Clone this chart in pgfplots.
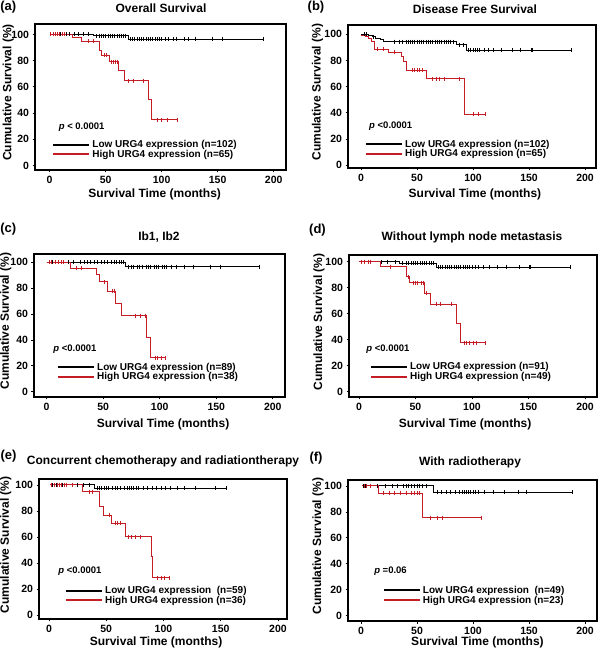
\documentclass[border=0pt]{standalone}
\usepackage{fontspec}
\setmainfont{Liberation Sans}
\usepackage{pgfplots}
\pgfplotsset{compat=1.18}
\definecolor{kmred}{RGB}{196,30,36}
\pgfplotsset{
 km/.style={
  scale only axis, anchor=south west,
  axis line style={line width=1.3pt},
  every tick/.style={black, line width=0.8pt},
  tick align=outside, major tick length=2.5pt, tick pos=left,
  xtick={0,50,100,150,200}, ytick={0,20,40,60,80,100},
  /pgf/number format/assume math mode=true,
  ticklabel style={font=\fontsize{10.5}{11}\selectfont},
  label style={font=\fontsize{12}{13}\selectfont},
  title style={font=\fontsize{12}{13}\selectfont, anchor=center},
  ylabel style={anchor=center},
  xlabel style={anchor=center},
  legend style={draw=none, fill=none, font=\fontsize{10}{11}\selectfont, anchor=west, inner sep=0pt, row sep=-3pt},
  legend cell align=left,
  legend image code/.code={\draw[#1] (0pt,0pt) -- (36pt,0pt);},
 },
 kmblk/.style={black, line width=1pt, const plot mark left, forget plot},
 kmrd/.style={kmred, line width=1pt, const plot mark left, forget plot},
 bcens/.style={black, only marks, mark=|, mark size=2pt, mark options={line width=0.6pt}, forget plot},
 rcens/.style={kmred, only marks, mark=|, mark size=2pt, mark options={line width=0.6pt}, forget plot},
}
\begin{document}
\bfseries
\begin{tikzpicture}
\path[use as bounding box] (0pt,0pt) rectangle (600pt,650pt);
% (a)
\node[font=\fontsize{13}{14}\selectfont] at (8.3pt,642.5pt) {(a)};
\begin{axis}[km, at={(35pt,480pt)}, width=251pt, height=146pt,
  xmin=-13, xmax=211, ymin=-3.5, ymax=108,
  title={Overall Survival}, title style={at={(0.502,1.065)}},
  xlabel={Survival Time (months)}, xlabel style={at={(0.477,-0.164)}},
  ylabel={Cumulative Survival (\%)}, ylabel style={at={(-0.106,0.53)}},
  legend style={at={(axis cs:2.4,12.2)}}]
\addlegendimage{black, line width=2pt}
\addlegendentry{Low URG4 expression (n=102)}
\addlegendimage{kmred, line width=2pt}
\addlegendentry{High URG4 expression (n=65)}
\addplot[kmblk] coordinates {(0,100)(39.3,98.9)(70,96.5)(191,96.5)};
\addplot[kmrd] coordinates {(0,100)(20.8,98)(28.9,94.7)(44.6,88)(46.7,84.3)(53.6,79.2)(61.6,72.3)(66.7,64.7)(88.4,50.5)(91.4,35)(114.3,35)};
\addplot[bcens] coordinates {(5,100)(10,100)(15,100)(18,100)(22,100)(26,100)(30,100)(35,100)
 (42,98.9)(44,98.9)(46,98.9)(48,98.9)(50,98.9)(52,98.9)(54,98.9)(56,98.9)(58,98.9)(60,98.9)(62,98.9)(64,98.9)(66,98.9)(68,98.9)
 (72,96.5)(74,96.5)(76,96.5)(78,96.5)(80,96.5)(82,96.5)(84,96.5)(86,96.5)(88,96.5)(90,96.5)(92,96.5)(94,96.5)(96,96.5)(98,96.5)(100,96.5)(103,96.5)(106,96.5)(110,96.5)(113,96.5)(120,96.5)(124,96.5)(130,96.5)(145,96.5)(154,96.5)(191,96.5)};
\addplot[rcens] coordinates {(1,100)(3,100)(5,100)(7,100)(9,100)(11,100)(13,100)(35,94.7)(39,94.7)(49,84.3)(51,84.3)(55,79.2)(57,79.2)(59,79.2)(60,79.2)(70.5,64.7)(75,64.7)(84,64.7)(96,35)(100,35)(105,35)(114,35)};
\node[anchor=west, font=\fontsize{9.5}{10}\selectfont] at (axis cs:5.1,29.4) {\textit{p} < 0.0001};
\end{axis}
% (b)
\node[font=\fontsize{13}{14}\selectfont] at (316pt,642.5pt) {(b)};
\begin{axis}[km, at={(348pt,482pt)}, width=248pt, height=143pt,
  xmin=-11.6, xmax=209.8, ymin=-2, ymax=107,
  title={Disease Free Survival}, title style={at={(0.512,1.07)}},
  xlabel={Survival Time (months)}, xlabel style={at={(0.512,-0.182)}},
  ylabel={Cumulative Survival (\%)}, ylabel style={at={(-0.123,0.53)}},
  legend style={at={(axis cs:3.6,12.3)}}]
\addlegendimage{black, line width=2pt}
\addlegendentry{Low URG4 expression (n=102)}
\addlegendimage{kmred, line width=2pt}
\addlegendentry{High URG4 expression (n=65)}
\addplot[kmblk] coordinates {(0,100)(6.5,99)(10,98)(13,97)(17,96)(20,94.4)(85.4,91.9)(94.3,87.6)(188,87.6)};
\addplot[kmrd] coordinates {(0,99)(3.6,98.2)(6.5,97)(9.5,94.4)(12.5,88.6)(24.4,86.3)(36.3,83)(37.8,79.2)(40.2,72.4)(58.6,66)(92.3,39)(112,39)};
\addplot[bcens] coordinates {(3,100)(5,100)(11,98)
 (30,94.4)(34,94.4)(37,94.4)(40,94.4)(42,94.4)(44,94.4)(46,94.4)(48,94.4)(50,94.4)(52,94.4)(54,94.4)(56,94.4)(58,94.4)(60,94.4)(62,94.4)(64,94.4)(66,94.4)(68,94.4)(70,94.4)(72,94.4)(74,94.4)(76,94.4)(78,94.4)(80,94.4)(82,94.4)
 (88,91.9)(91,91.9)
 (96,87.6)(98,87.6)(100,87.6)(102,87.6)(104,87.6)(106,87.6)(110,87.6)(114,87.6)(118,87.6)(125,87.6)(135,87.6)(142,87.6)(152,87.6)(153,87.6)(188,87.6)};
\addplot[rcens] coordinates {(15,88.6)(20,88.6)(30,86.3)(46,72.4)(48,72.4)(50,72.4)(52,72.4)(55,72.4)(64,66)(67,66)(70,66)(74,66)(88,66)(100,39)(105,39)(111,39)};
\node[anchor=west, font=\fontsize{9.5}{10}\selectfont] at (axis cs:4.2,29.7) {\textit{p} <0.0001};
\end{axis}
% (c)
\node[font=\fontsize{13}{14}\selectfont] at (8.3pt,420.5pt) {(c)};
\begin{axis}[km, at={(34pt,253pt)}, width=251pt, height=143pt,
  xmin=-11.2, xmax=210.8, ymin=-4.1, ymax=106.4,
  title={Ib1, Ib2}, title style={at={(0.498,1.077)}},
  xlabel={Survival Time (months)}, xlabel style={at={(0.514,-0.189)}},
  ylabel={Cumulative Survival (\%)}, ylabel style={at={(-0.112,0.53)}},
  legend style={at={(axis cs:9.1,15.2)}}]
\addlegendimage{black, line width=2pt}
\addlegendentry{Low URG4 expression (n=89)}
\addlegendimage{kmred, line width=2pt}
\addlegendentry{High URG4 expression (n=38)}
\addplot[kmblk] coordinates {(0,100)(70,96.6)(188,96.6)};
\addplot[kmrd] coordinates {(0,100)(21.5,95.3)(44.2,90.2)(46.3,85)(53.7,77.7)(60.5,68.1)(65.8,58.5)(88.5,42.2)(91.5,26.2)(104.7,26.2)};
\addplot[bcens] coordinates {(2,100)(5,100)(8,100)(15,100)(19,100)(24,100)(30,100)(33,100)(36,100)(39,100)(42,100)(45,100)(48,100)(51,100)(54,100)(57,100)(60,100)(62,100)(64,100)(66,100)(68,100)
 (72,96.6)(75,96.6)(77,96.6)(80,96.6)(82,96.6)(85,96.6)(88,96.6)(90,96.6)(92,96.6)(95,96.6)(97,96.6)(99,96.6)(102,96.6)(104,96.6)(106,96.6)(110,96.6)(115,96.6)(122,96.6)(130,96.6)(145,96.6)(154,96.6)(188,96.6)};
\addplot[rcens] coordinates {(2,100)(4,100)(8,100)(10,100)(13,100)(15,100)(26,95.3)(31,95.3)(51,85)(58,77.7)(60,77.7)(78,58.5)(83,58.5)(87,58.5)(96,26.2)(98,26.2)(101,26.2)(104.7,26.2)};
\node[anchor=west, font=\fontsize{9.5}{10}\selectfont] at (axis cs:2.9,33) {\textit{p} <0.0001};
\end{axis}
% (d)
\node[font=\fontsize{13}{14}\selectfont] at (317.5pt,420pt) {(d)};
\begin{axis}[km, at={(349pt,253pt)}, width=248pt, height=142pt,
  xmin=-8.8, xmax=210.6, ymin=-4.1, ymax=105.2,
  title={Without lymph node metastasis}, title style={at={(0.496,1.085)}},
  xlabel={Survival Time (months)}, xlabel style={at={(0.468,-0.19)}},
  ylabel={Cumulative Survival (\%)}, ylabel style={at={(-0.121,0.53)}},
  legend style={at={(axis cs:9.7,15.2)}}]
\addlegendimage{black, line width=2pt}
\addlegendentry{Low URG4 expression (n=91)}
\addlegendimage{kmred, line width=2pt}
\addlegendentry{High URG4 expression (n=49)}
\addplot[kmblk] coordinates {(0,100)(36.3,98.7)(68.7,95.6)(187.3,95.6)};
\addplot[kmrd] coordinates {(0,100)(19.5,96.2)(42.2,88.5)(44.5,83.8)(58.4,75.6)(63.4,67.2)(86.4,52.6)(89.4,37.7)(112,37.7)};
\addplot[bcens] coordinates {(5,100)(10,100)(20,100)(25,100)(32,100)
 (38,98.7)(42,98.7)(44,98.7)(46,98.7)(48,98.7)(50,98.7)(52,98.7)(54,98.7)(56,98.7)(58,98.7)(60,98.7)(62,98.7)(64,98.7)(66,98.7)
 (70,95.6)(72,95.6)(74,95.6)(76,95.6)(78,95.6)(80,95.6)(82,95.6)(84,95.6)(86,95.6)(88,95.6)(90,95.6)(92,95.6)(94,95.6)(96,95.6)(98,95.6)(100,95.6)(103,95.6)(106,95.6)(110,95.6)(115,95.6)(122,95.6)(130,95.6)(142,95.6)(151,95.6)(152,95.6)(187,95.6)};
\addplot[rcens] coordinates {(2,100)(5,100)(8,100)(10,100)(28,96.2)(44,88.5)(48,83.8)(50,83.8)(52,83.8)(55,83.8)(57,83.8)(60,75.6)(68,67.2)(72,67.2)(82,67.2)(93,37.7)(95,37.7)(98,37.7)(101,37.7)(104,37.7)(112,37.7)};
\node[anchor=west, font=\fontsize{9.5}{10}\selectfont] at (axis cs:3.5,32.8) {\textit{p} <0.0001};
\end{axis}
% (e)
\node[font=\fontsize{13}{14}\selectfont] at (8.5pt,193.5pt) {(e)};
\begin{axis}[km, at={(39pt,31pt)}, width=248pt, height=140pt,
  xmin=-8.7, xmax=207.9, ymin=-3.1, ymax=104.6,
  title={Concurrent chemotherapy and radiationtherapy}, title style={at={(0.5,1.086)}},
  xlabel={Survival Time (months)}, xlabel style={at={(0.472,-0.164)}},
  ylabel={Cumulative Survival (\%)}, ylabel style={at={(-0.134,0.53)}},
  legend style={at={(axis cs:14,15)}}]
\addlegendimage{black, line width=2pt}
\addlegendentry{Low URG4 expression \ (n=59)}
\addlegendimage{kmred, line width=2pt}
\addlegendentry{High URG4 expression (n=36)}
\addplot[kmblk] coordinates {(1,100)(39.9,97.4)(154.9,97.4)};
\addplot[kmrd] coordinates {(1,100)(29.7,94.9)(44.3,83.3)(47.2,76.9)(54.4,70.5)(67,60.3)(89.4,44.9)(90.8,28.7)(105.4,28.7)};
\addplot[bcens] coordinates {(3,100)(6,100)(9,100)(12,100)(15,100)(20,100)(25,100)(30,100)(35,100)
 (42,97.4)(44,97.4)(46,97.4)(48,97.4)(50,97.4)(52,97.4)(55,97.4)(58,97.4)(60,97.4)(62,97.4)(66,97.4)(68,97.4)(70,97.4)(72,97.4)(74,97.4)(76,97.4)(78,97.4)(82,97.4)(86,97.4)(90,97.4)(94,97.4)(98,97.4)(102,97.4)(106,97.4)(112,97.4)(118,97.4)(128,97.4)(145,97.4)(155,97.4)};
\addplot[rcens] coordinates {(2,100)(5,100)(7,100)(9,100)(11,100)(13,100)(15,100)(20,100)(35,94.9)(38,94.9)(53,76.9)(58,70.5)(60,70.5)(62,70.5)(69,60.3)(72,60.3)(75,60.3)(80,60.3)(95,28.7)(98,28.7)(101,28.7)(105,28.7)};
\node[anchor=west, font=\fontsize{9.5}{10}\selectfont] at (axis cs:5.2,34) {\textit{p} <0.0001};
\end{axis}
% (f)
\node[font=\fontsize{13}{14}\selectfont] at (316pt,191.5pt) {(f)};
\begin{axis}[km, at={(348pt,29pt)}, width=249pt, height=141pt,
  xmin=-11.6, xmax=210.7, ymin=-4.1, ymax=104.6,
  title={With radiotherapy}, title style={at={(0.49,1.085)}},
  xlabel={Survival Time (months)}, xlabel style={at={(0.52,-0.149)}},
  ylabel={Cumulative Survival (\%)}, ylabel style={at={(-0.12,0.53)}},
  legend style={at={(axis cs:19.4,15.7)}}]
\addlegendimage{black, line width=2pt}
\addlegendentry{Low URG4 expression \ (n=49)}
\addlegendimage{kmred, line width=2pt}
\addlegendentry{High URG4 expression (n=23)}
\addplot[kmblk] coordinates {(1,100)(64.6,95.1)(189,95.1)};
\addplot[kmrd] coordinates {(1,100)(15.5,94.3)(54.8,75.6)(107.7,75.6)};
\addplot[bcens] coordinates {(2,100)(4,100)(8,100)(15,100)(22,100)(28,100)(32,100)(38,100)(40,100)(42,100)(45,100)(48,100)(50,100)(52,100)(55,100)(58,100)
 (68,95.1)(72,95.1)(76,95.1)(80,95.1)(84,95.1)(88,95.1)(90,95.1)(92,95.1)(94,95.1)(96,95.1)(98,95.1)(100,95.1)(102,95.1)(105,95.1)(110,95.1)(118,95.1)(128,95.1)(140,95.1)(148,95.1)(189,95.1)};
\addplot[rcens] coordinates {(3,100)(5,100)(8,100)(20,94.3)(25,94.3)(30,94.3)(35,94.3)(40,94.3)(45,94.3)(48,94.3)(50,94.3)(52,94.3)(62,75.6)(68,75.6)(73,75.6)(107.7,75.6)};
\node[anchor=west, font=\fontsize{9.5}{10}\selectfont] at (axis cs:8.7,34.5) {\textit{p} =0.06};
\end{axis}
\end{tikzpicture}
\end{document}
